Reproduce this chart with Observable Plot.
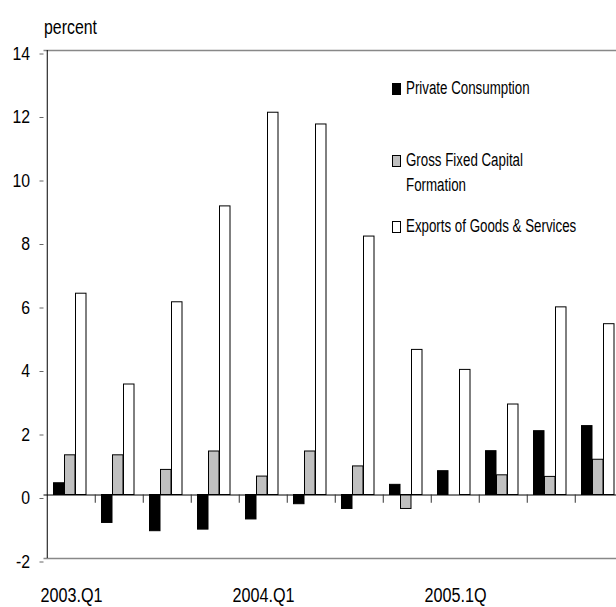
<!DOCTYPE html>
<html><head><meta charset="utf-8">
<script src="https://cdn.jsdelivr.net/npm/d3@7"></script>
<script src="https://cdn.jsdelivr.net/npm/@observablehq/plot@0.6"></script>
<style>
html,body{margin:0;padding:0;background:#fff;overflow:hidden;}
#wrap{position:relative;width:616px;height:607px;overflow:hidden;font-family:'Liberation Sans',Arial,sans-serif;}
#wrap svg{max-width:none;}
.leg{position:absolute;left:392px;font-size:18px;line-height:25px;color:#000;}
.sw{position:absolute;left:0;width:7px;height:9.5px;border:1px solid #000;box-sizing:content-box;}
.lt{position:absolute;left:14px;top:0;white-space:pre;transform:scaleX(0.74);transform-origin:0 0;}
</style></head><body><div id="wrap"></div>
<script>
const quarters = ["2003.Q1","2003.Q2","2003.Q3","2003.Q4","2004.Q1","2004.Q2","2004.Q3","2004.Q4","2005.Q1","2005.Q2","2005.Q3","2005.Q4"];
const tickLabels = ["2003.Q1","","","","2004.Q1","","","","2005.1Q","","",""];
const privateConsumption = [0.37,-0.88,-1.14,-1.09,-0.77,-0.29,-0.44,0.32,0.75,1.38,2.01,2.17];
const grossFixedCapital = [1.25,1.25,0.79,1.37,0.58,1.37,0.90,-0.44,0,0.62,0.57,1.11];
const exportsGS = [6.34,3.48,6.07,9.09,12.04,11.67,8.14,4.57,3.94,2.85,5.91,5.38];
const seriesNames = ["Private Consumption","Gross Fixed Capital\nFormation","Exports of Goods & Services"];
const seriesColors = ["#000000","#c0c0c0","#ffffff"];
const yTicks = [-2,0,2,4,6,8,10,12,14];
const yLabel = "percent";

const FONT = "'Liberation Sans',Arial,sans-serif";
const x0 = 43.5, bw = 48.5;
const slot = 11, padL = 6.5;
const seriesValues = [privateConsumption, grossFixedCapital, exportsGS];
const rows = [];
seriesValues.forEach((vals, k) => vals.forEach((v, i) => rows.push({quarter: quarters[i], value: v, k})));
const labelOf = new Map(quarters.map((q, i) => [q, tickLabels[i]]));

const barMarks = seriesValues.map((vals, k) =>
  Plot.barY(rows.filter(d => d.k === k), {
    x: "quarter", y: "value",
    fill: seriesColors[k], stroke: "#000", strokeWidth: 1,
    insetLeft: padL + k * slot,
    insetRight: bw - padL - (k + 1) * slot
  })
);

const chart = Plot.plot({
  width: 616, height: 607,
  marginTop: 50, marginBottom: 49, marginLeft: 43.5, marginRight: 0,
  style: {fontFamily: FONT, fontSize: "19px", color: "#000", background: "#fff", overflow: "visible"},
  x: {type: "band", domain: quarters, range: [x0, x0 + bw * quarters.length], padding: 0, align: 0.5, axis: null},
  y: {domain: [-2, 14], axis: null},
  marks: [
    Plot.ruleY([14, -2], {stroke: "#888", strokeWidth: 1.5}),
    ...barMarks,
    Plot.ruleY([0], {stroke: "#000", strokeWidth: 1}),
    Plot.ruleX(quarters.slice(1), {x: d => d, y1: 0, y2: -0.26, dx: -bw / 2, stroke: "#333", strokeWidth: 1}),
    Plot.ruleX(quarters.slice(0, 1), {x: d => d, y1: -2, y2: 14, dx: -bw / 2, stroke: "#000", strokeWidth: 1}),
    Plot.axisY({ticks: yTicks, tickSize: 4, tickPadding: 10, tickFormat: d => String(d), fontSize: "18.6px", dy: 3.5, stroke: "#666", label: null}),
    Plot.axisX({tickSize: 0, tickPadding: 29, tickFormat: d => labelOf.get(d), fontSize: "21px", label: null}),
    Plot.text([yLabel], {frameAnchor: "top-left", text: d => d, dy: -23, textAnchor: "start", lineAnchor: "middle", fontSize: "19.5px"})
  ]
});
const wrap = document.getElementById("wrap");
wrap.appendChild(chart);

// narrow the glyphs to mimic the condensed face of the original
function factorFor(s) {
  if (/^-?\d+$/.test(s)) return 0.85;        // y tick labels
  if (/^\d{4}\./.test(s)) return 0.77;       // x tick labels
  if (s === yLabel) return 0.815;            // axis unit label
  return 1;
}
chart.querySelectorAll("text").forEach(t => {
  const s = (t.textContent || "").trim();
  const f = factorFor(s);
  if (f === 1 || !s) return;
  const x = parseFloat(t.getAttribute("x")) || 0;
  const y = parseFloat(t.getAttribute("y")) || 0;
  const tr = t.getAttribute("transform") || "";
  t.setAttribute("transform", `${tr} translate(${x},${y}) scale(${f},1) translate(${-x},${-y})`);
});

// Legend (HTML overlay)
const legendTops = [76.3, 148, 214];
seriesNames.forEach((name, k) => {
  const item = document.createElement("div");
  item.className = "leg";
  item.style.top = legendTops[k] + "px";
  const sw = document.createElement("div");
  sw.className = "sw";
  sw.style.top = "7.2px";
  sw.style.background = seriesColors[k];
  const t = document.createElement("div");
  t.className = "lt";
  t.textContent = name;
  item.appendChild(sw);
  item.appendChild(t);
  wrap.appendChild(item);
});
</script></body></html>
